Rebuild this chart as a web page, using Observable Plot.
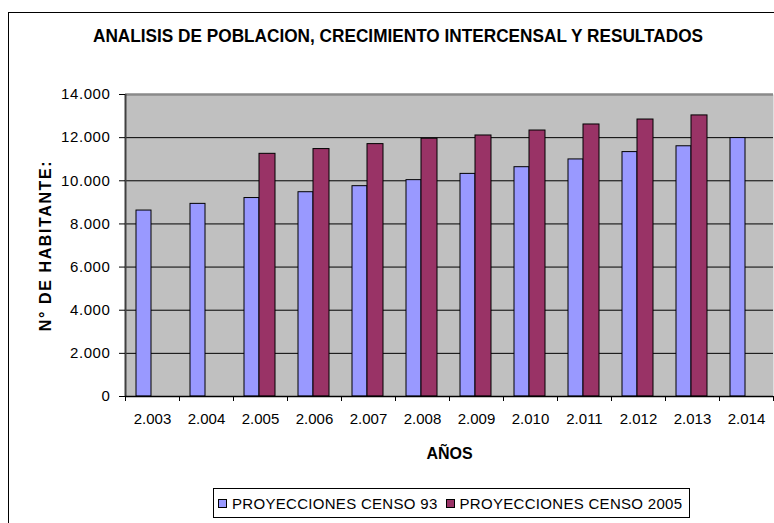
<!DOCTYPE html>
<html>
<head>
<meta charset="utf-8">
<script src="https://cdn.jsdelivr.net/npm/d3@7"></script>
<script src="https://cdn.jsdelivr.net/npm/@observablehq/plot@0.6"></script>
<style>
  body { margin: 0; background: #fff; overflow: hidden; }
  #wrap { position: relative; width: 774px; height: 523px; overflow: hidden; font-family: "Liberation Sans", Arial, sans-serif; color: #000; }
  #border { position: absolute; left: 8px; top: 12px; width: 900px; height: 700px; border: 1px solid #000; box-sizing: border-box; }
  #title { position: absolute; left: 93px; top: 27px; white-space: nowrap; font-weight: bold; font-size: 18px; line-height: 18px; transform-origin: 0 0; display: inline-block; }
  #chart { position: absolute; left: 0; top: 0; }
  #legend { position: absolute; left: 213px; top: 488px; width: 477px; height: 30px; border: 1px solid #000; box-sizing: border-box; background: #fff; display: flex; align-items: center; font-size: 15px; letter-spacing: 0.3px; white-space: nowrap; }
  .item { display: flex; align-items: center; }
  .sw { width: 7px; height: 7px; border: 1px solid #000; margin-left: 4px; margin-right: 5px; }
  g[aria-label="y-axis label"] text, g[aria-label="x-axis label"] text { font-weight: bold; font-size: 16px; }
  g[aria-label="y-axis label"] text { letter-spacing: 1.6px; }
  g[aria-label="y-axis tick label"] text { letter-spacing: 0.6px; }
</style>
</head>
<body>
<div id="wrap">
  <div id="border"></div>
  <div id="title"></div>
  <div id="chart"></div>
  <div id="legend"></div>
</div>
<script>
const titleText = "ANALISIS DE POBLACION, CRECIMIENTO INTERCENSAL Y RESULTADOS";
const years = ["2.003","2.004","2.005","2.006","2.007","2.008","2.009","2.010","2.011","2.012","2.013","2.014"];
const censo93 = [8620, 8930, 9200, 9470, 9750, 10030, 10320, 10630, 10990, 11330, 11600, 11980];
const censo2005 = [null, null, 11250, 11470, 11700, 11950, 12100, 12330, 12610, 12840, 13030, null];
const seriesNames = ["PROYECCIONES CENSO 93", "PROYECCIONES CENSO 2005"];
const seriesColors = ["#9999FF", "#993366"];
const yTicks = [0, 2000, 4000, 6000, 8000, 10000, 12000, 14000];
const yLabel = "N° DE HABITANTE:";
const xLabel = "AÑOS";

const rows93 = years.map((y, i) => ({year: y, value: censo93[i], series: seriesNames[0]})).filter(d => d.value != null);
const rows05 = years.map((y, i) => ({year: y, value: censo2005[i], series: seriesNames[1]})).filter(d => d.value != null);

const loc = d3.formatLocale({decimal: ",", thousands: ".", grouping: [3], currency: ["", ""]});
const fmt = loc.format(",");

const t = document.getElementById("title");
t.textContent = titleText;

const chart = Plot.plot({
  width: 774,
  height: 475,
  marginTop: 94,
  marginLeft: 125,
  marginRight: 1,
  marginBottom: 79,
  style: {fontFamily: "'Liberation Sans', Arial, sans-serif", fontSize: "15px", color: "#000", background: "transparent", overflow: "visible"},
  x: {domain: years, padding: 0},
  y: {domain: [0, 14000]},
  color: {domain: seriesNames, range: seriesColors},
  marks: [
    Plot.frame({fill: "#C0C0C0", stroke: null}),
    Plot.gridY(yTicks.slice(1, -1), {stroke: "#000", strokeOpacity: 1, strokeWidth: 1}),
    Plot.ruleY([yTicks[yTicks.length - 1]], {stroke: "#8a8a8a", strokeWidth: 2.5}),
    Plot.barY(rows93, {x: "year", y: "value", fill: "series", stroke: "#000", strokeWidth: 1, insetLeft: 11, insetRight: 28}),
    Plot.barY(rows05, {x: "year", y: "value", fill: "series", stroke: "#000", strokeWidth: 1, insetLeft: 26, insetRight: 12}),
    Plot.ruleX([years[0]], {dx: -27, stroke: "#404040", strokeWidth: 2}),
    Plot.ruleY([0], {stroke: "#000", strokeWidth: 1.5}),
    Plot.axisY({ticks: yTicks, tickSize: 6, tickPadding: 9, tickFormat: fmt, label: yLabel, labelAnchor: "center", labelOffset: 86, labelArrow: "none"}),
    Plot.axisX({tickSize: 0, tickPadding: 17, label: xLabel, labelAnchor: "center", labelOffset: 62, labelArrow: "none"}),
    Plot.axisX({tickSize: 5, tickFormat: () => "", label: null, dx: -27}),
    Plot.axisX({ticks: [years[years.length - 1]], tickSize: 5, tickFormat: () => "", label: null, dx: 27})
  ]
});
document.getElementById("chart").appendChild(chart);

const legend = document.getElementById("legend");
seriesNames.forEach((name, i) => {
  const item = document.createElement("div");
  item.className = "item";
  item.style.marginRight = i === 0 ? "4px" : "0";
  const sw = document.createElement("div");
  sw.className = "sw";
  sw.style.background = seriesColors[i];
  const lab = document.createElement("span");
  lab.textContent = name;
  item.appendChild(sw);
  item.appendChild(lab);
  legend.appendChild(item);
});

// fit title to its measured width in the reference
const w = t.getBoundingClientRect().width;
t.style.transform = `scaleX(${610 / w})`;
</script>
</body>
</html>
